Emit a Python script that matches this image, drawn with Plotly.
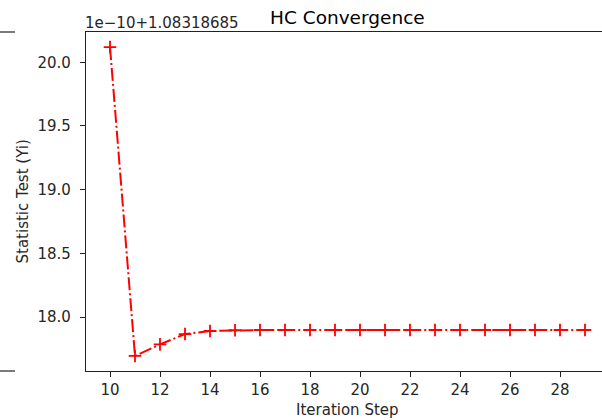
import plotly.graph_objects as go

# Data (values shown relative to offset: y_true = OFFSET + SCALE * y_disp)
iteration_step = list(range(10, 30))
statistic_disp = [20.12, 17.694, 17.785, 17.866, 17.89, 17.896, 17.898, 17.898, 17.898, 17.898,
                  17.898, 17.898, 17.898, 17.898, 17.898, 17.898, 17.898, 17.898, 17.898, 17.898]
OFFSET_TEXT = "1e\u221210+1.08318685"
x_ticks = [10, 12, 14, 16, 18, 20, 22, 24, 26, 28]
y_ticks = [18.0, 18.5, 19.0, 19.5, 20.0]

FONT = "DejaVu Sans"
TXT = "#262626"

fig = go.Figure()
fig.add_trace(go.Scatter(
    x=iteration_step, y=statistic_disp, mode="lines+markers",
    line=dict(color="red", width=2, dash="13px,3px,2px,3px"),
    marker=dict(symbol="cross-thin", size=9, line=dict(color="red", width=1.8)),
    hoverinfo="skip", showlegend=False,
))

fig.update_layout(
    width=602, height=420,
    margin=dict(l=86, r=0, t=32, b=49),
    paper_bgcolor="white", plot_bgcolor="white",
    font=dict(family=FONT, size=15, color=TXT),
    xaxis=dict(
        range=[9.04, 29.68], tickvals=x_ticks, ticktext=[str(v) for v in x_ticks],
        showgrid=False, zeroline=False, showline=True, linecolor="#222", linewidth=1.2,
        mirror=True, ticks="outside", ticklen=5, tickcolor="#222", tickwidth=1.2,
        ticklabelstandoff=0,
        tickfont=dict(family=FONT, size=15, color=TXT),
    ),
    yaxis=dict(
        range=[17.576, 20.238], tickvals=y_ticks, ticktext=[f"{v:.1f}" for v in y_ticks],
        showgrid=False, zeroline=False, showline=True, linecolor="#222", linewidth=1.2,
        mirror=False, ticks="outside", ticklen=5, tickcolor="#222", tickwidth=1.2,
        ticklabelstandoff=6,
        tickfont=dict(family=FONT, size=15, color=TXT),
    ),
    annotations=[
        dict(text="HC Convergence", xref="paper", yref="paper", x=(347.5 - 86) / 516, y=1,
             xanchor="center", yanchor="bottom", yshift=2, showarrow=False,
             font=dict(family=FONT, size=18.5, color="black")),
        dict(text=OFFSET_TEXT, xref="paper", yref="paper", x=0, y=1,
             xanchor="left", yanchor="bottom", xshift=-3, yshift=-2, showarrow=False,
             font=dict(family=FONT, size=15, color=TXT)),
        dict(text="Iteration Step", xref="paper", yref="paper", x=(347.5 - 86) / 516, y=0,
             xanchor="center", yanchor="middle", yshift=-39, showarrow=False,
             font=dict(family=FONT, size=15, color=TXT)),
        dict(text="Statistic Test (Yi)", xref="paper", yref="paper", x=0, y=0.5,
             xanchor="center", yanchor="middle", xshift=-64, textangle=-90, showarrow=False,
             font=dict(family=FONT, size=15, color=TXT)),
    ],
    shapes=[
        dict(type="line", xref="paper", yref="paper", xsizemode="pixel", xanchor=0,
             x0=-86, x1=-71, y0=1, y1=1, line=dict(color="#222", width=1.2)),
        dict(type="line", xref="paper", yref="paper", xsizemode="pixel", xanchor=0,
             x0=-86, x1=-71, y0=0, y1=0, line=dict(color="#222", width=1.2)),
    ],
)

fig.write_html(
    "out.html",
    config={"displayModeBar": False},
    post_script="document.body.style.margin='0';document.body.style.overflow='hidden';",
)
